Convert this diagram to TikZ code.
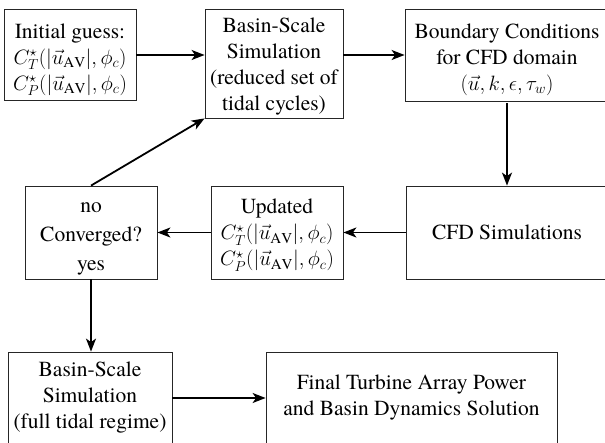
\documentclass[tikz,border=0pt]{standalone}
\usepackage{fontspec}
\setmainfont{texgyretermes}[Extension=.otf, UprightFont=*-regular, BoldFont=*-bold, ItalicFont=*-italic]
\usetikzlibrary{arrows.meta}
\tikzset{
  box/.style={draw=black!85, line width=0.8pt, rectangle, align=center, inner sep=0pt,
              font=\fontsize{21.5}{26}\selectfont},
  flow/.style={line width=1.8pt, -{Stealth[length=13pt, width=10pt, inset=3.5pt]}}
}
\newcommand{\coef}[1]{$C^{\star}_{#1}(|\vec{u}_{\mathrm{AV}}|,\phi_c)$}
% invisible rule that lowers a text block inside its box
\newcommand{\lift}[1]{\rule{0pt}{#1}}
\begin{document}
\begin{tikzpicture}[x=1pt, y=-1pt]
  \useasboundingbox (0,0) rectangle (605,443);
  \clip (0,0) rectangle (605,443);
  % top row
  \node[box, minimum width=132pt, minimum height=91pt] (init) at (70,55)
    {\lift{24pt}Initial guess:\\ \coef{T}\\ \coef{P}};
  \node[box, minimum width=138pt, minimum height=109pt] (basin1) at (274,63.5)
    {\lift{21pt}Basin-Scale\\ Simulation\\ (reduced set of\\ tidal cycles)};
  \node[box, minimum width=204pt, minimum height=92pt] (bc) at (507,55)
    {\lift{24pt}Boundary Conditions\\ for CFD domain\\ $(\vec{u},k,\epsilon,\tau_w)$};
  % middle row
  \node[box, minimum width=132pt, minimum height=93pt] (conv) at (91,232.5)
    {\lift{22pt}no\\[3pt] Converged?\\[3pt] yes};
  \node[box, minimum width=132pt, minimum height=93pt] (upd) at (277,232.5)
    {\lift{20pt}Updated\\ \coef{T}\\ \coef{P}};
  \node[box, minimum width=202pt, minimum height=93pt] (cfd) at (507,232.5)
    {CFD Simulations};
  % bottom row
  \node[box, minimum width=164pt, minimum height=92pt] (full) at (90,398)
    {Basin-Scale\\ Simulation\\ (full tidal regime)};
  \node[box, minimum width=291pt, minimum height=92pt] (final) at (411.5,398)
    {Final Turbine Array Power\\ and Basin Dynamics Solution};
  % connectors
  \draw[flow] (init.east) -- (init.east -| basin1.west);
  \draw[flow] (bc.west -| basin1.east) -- (bc.west);
  \draw[flow, shorten <=2pt] (bc.south) -- (cfd.north);
  \draw[flow] (cfd.west) -- (upd.east);
  \draw[flow] (upd.west) -- (conv.east);
  \draw[flow] (conv.north) -- (basin1.south west);
  \draw[flow] (conv.south) -- (conv.south |- full.north);
  \draw[flow] (full.east) -- (final.west);
\end{tikzpicture}
\end{document}
